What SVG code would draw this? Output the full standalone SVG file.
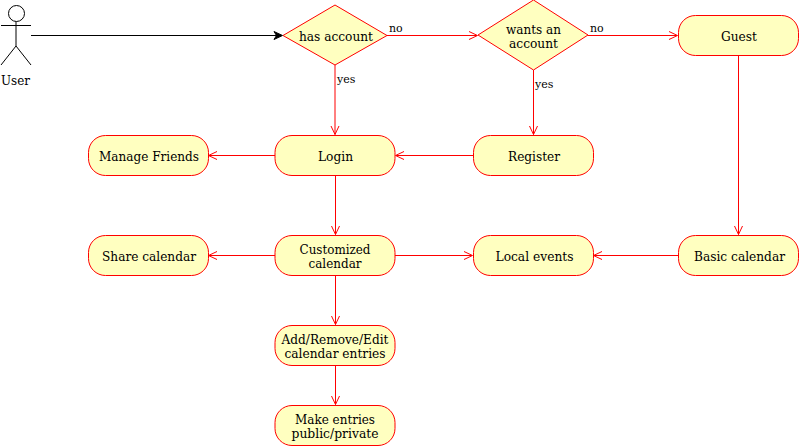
<svg xmlns="http://www.w3.org/2000/svg" width="799" height="446" viewBox="0 0 799 446">
<style>
text{font-family:"DejaVu Serif",serif;font-size:13px;fill:#000;text-anchor:middle}
.l{font-size:11px;text-anchor:start;fill:#000}
.n rect,.n polygon{fill:#ffffc0;stroke:#f00;stroke-width:1}
.c{fill:none;stroke:#f00;stroke-width:1}
.act{fill:none;stroke:#000;stroke-width:1}
</style>
<rect width="799" height="446" fill="#fff"/>
<g id="connectors">
<path d="M31 35.500H281" fill="none" stroke="#000"/>
<path d="M282.500 35.500L274 31.500L276.500 35.500L274 39.500Z" fill="#000" stroke="#000"/>
<path class="c" d="M387 35.500H477M335 65V134.500M533.500 70V134.500M588 35.500H677M275 155.500H209M473 155.500H396M335.500 175.500V234.500M738.500 55.500V234.500M678 255.500H594M275 255.500H209M395 255.500H472M335.500 275.500V324.500M335.500 365.500V404.500"/>
<path class="c" d="M469 31.500L477.500 35.500L469 39.500M331 126L335 134.500L339 126M529.500 126L533.500 134.500L537.500 126M669 31.500L677.500 35.500L669 39.500M217 151.500L208.500 155.500L217 159.500M404 151.500L395.500 155.500L404 159.500M331.500 226L335.500 234.500L339.500 226M734.500 226L738.500 234.500L742.500 226M602 251.500L593.500 255.500L602 259.500M217 251.500L208.500 255.500L217 259.500M464 251.500L472.500 255.500L464 259.500M331.500 316L335.500 324.500L339.500 316M331.500 396L335.500 404.500L339.500 396"/>
</g>
<g id="user">
<circle class="act" cx="16.500" cy="13.500" r="8"/>
<path class="act" d="M16 21.500V46M1 25.500H31M16 46L1 65M16 46L31 65"/>
<text x="15.500" y="85" textLength="29" lengthAdjust="spacingAndGlyphs">User</text>
</g>
<g id="has-account" class="n"><polygon points="283,35.500 335,5 387,35.500 335,65"/><text x="336" y="41" textLength="74" lengthAdjust="spacingAndGlyphs">has account</text></g>
<g id="wants-account" class="n"><polygon points="478,35 533.500,0 588,35 533.500,70"/><text x="533.500" y="34" textLength="55" lengthAdjust="spacingAndGlyphs">wants an</text><text x="533.500" y="48" textLength="49" lengthAdjust="spacingAndGlyphs">account</text></g>
<g id="guest" class="n"><rect x="678.500" y="15.500" width="120" height="40" rx="17"/><text x="739" y="41" textLength="36" lengthAdjust="spacingAndGlyphs">Guest</text></g>
<g id="login" class="n"><rect x="275" y="135.500" width="120" height="40" rx="17"/><text x="335.500" y="161" textLength="35" lengthAdjust="spacingAndGlyphs">Login</text></g>
<g id="manage-friends" class="n"><rect x="88.500" y="135.500" width="120" height="40" rx="17"/><text x="149" y="161" textLength="100" lengthAdjust="spacingAndGlyphs">Manage Friends</text></g>
<g id="register" class="n"><rect x="473.500" y="135.500" width="120" height="40" rx="17"/><text x="534" y="161" textLength="52" lengthAdjust="spacingAndGlyphs">Register</text></g>
<g id="share-calendar" class="n"><rect x="88.500" y="235.500" width="120" height="40" rx="17"/><text x="149" y="261" textLength="94" lengthAdjust="spacingAndGlyphs">Share calendar</text></g>
<g id="customized-calendar" class="n"><rect x="275" y="235.500" width="120" height="40" rx="17"/><text x="335" y="254" textLength="71" lengthAdjust="spacingAndGlyphs">Customized</text><text x="335" y="268" textLength="53" lengthAdjust="spacingAndGlyphs">calendar</text></g>
<g id="local-events" class="n"><rect x="473.500" y="235.500" width="120" height="40" rx="17"/><text x="534.500" y="261" textLength="78" lengthAdjust="spacingAndGlyphs">Local events</text></g>
<g id="basic-calendar" class="n"><rect x="678.500" y="235.500" width="120" height="40" rx="17"/><text x="739.500" y="261" textLength="91" lengthAdjust="spacingAndGlyphs">Basic calendar</text></g>
<g id="add-remove-edit" class="n"><rect x="275" y="325.500" width="120" height="40" rx="17"/><text x="335" y="344" textLength="107" lengthAdjust="spacingAndGlyphs">Add/Remove/Edit</text><text x="335" y="358" textLength="101" lengthAdjust="spacingAndGlyphs">calendar entries</text></g>
<g id="make-entries" class="n"><rect x="275" y="405.500" width="120" height="40" rx="17"/><text x="335" y="424" textLength="80" lengthAdjust="spacingAndGlyphs">Make entries</text><text x="335" y="438" textLength="87" lengthAdjust="spacingAndGlyphs">public/private</text></g>
<g id="labels">
<text class="l" x="389" y="32">no</text>
<text class="l" x="337" y="83">yes</text>
<text class="l" x="590" y="32">no</text>
<text class="l" x="535" y="88">yes</text>
</g>
</svg>
